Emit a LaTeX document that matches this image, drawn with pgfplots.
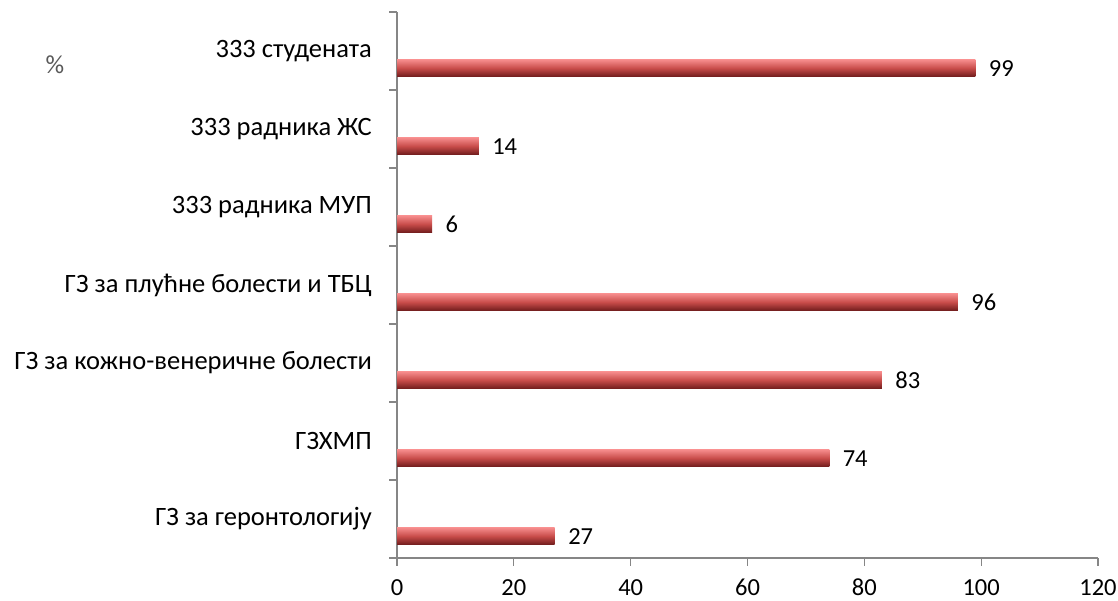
\documentclass[border=0pt]{standalone}
\usepackage{pgfplots}
\pgfplotsset{compat=1.18}
\usepackage{fontspec}
\setmainfont{Carlito}
\definecolor{axgray}{RGB}{134,134,134}
\definecolor{bartop}{RGB}{246,140,140}
\definecolor{barmid}{RGB}{200,76,74}
\definecolor{barbot}{RGB}{112,28,28}
\begin{document}
\begin{tikzpicture}
\useasboundingbox (0pt,0pt) rectangle (1118pt,601pt);
\begin{axis}[
  at={(397pt,43pt)}, anchor=south west,
  scale only axis, width=701pt, height=546pt,
  xmin=0, xmax=120, ymin=-0.5, ymax=6.5,
  axis x line*=bottom, axis y line*=left,
  axis line style={axgray, line width=1.3pt},
  xtick={0,20,...,120},
  ytick={-0.5,0.5,...,6.5},
  yticklabels={},
  extra y ticks={0,...,6},
  extra y tick labels={ГЗ за геронтологију, ГЗХМП, ГЗ за кожно-венеричне болести, ГЗ за плућне болести и ТБЦ, 333 радника МУП, 333 радника ЖС, 333 студената},
  extra y tick style={tick style={draw=none}},
  major tick length=8pt,
  tick align=outside,
  tick style={axgray, line width=1.3pt},
  xticklabel style={font=\fontsize{24.5}{28}\selectfont, inner sep=0pt, yshift=-13pt},
  yticklabel style={font=\fontsize{26.5}{30}\selectfont, inner sep=0pt, xshift=-17pt},
  /pgf/number format/assume math mode=true,
  clip=false,
  barsty/.style={xbar, bar width=17pt, bar shift=0pt, draw=none, top color=bartop, bottom color=barbot, middle color=barmid},
]
\addplot[barsty] coordinates {(27,-0.22)};
\addplot[barsty] coordinates {(74,0.78)};
\addplot[barsty] coordinates {(83,1.78)};
\addplot[barsty] coordinates {(96,2.78)};
\addplot[barsty] coordinates {(6,3.78)};
\addplot[barsty] coordinates {(14,4.78)};
\addplot[barsty] coordinates {(99,5.78)};
\addplot[draw=none, mark=none, nodes near coords, point meta=x,
  nodes near coords style={anchor=west, xshift=10pt, text=black, font=\fontsize{24.5}{28}\selectfont}]
  coordinates {(27,-0.22) (74,0.78) (83,1.78) (96,2.78) (6,3.78) (14,4.78) (99,5.78)};
\end{axis}
\node[font=\fontsize{26}{30}\selectfont, text=black!65] at (55pt,536pt) {\%};
\end{tikzpicture}
\end{document}
